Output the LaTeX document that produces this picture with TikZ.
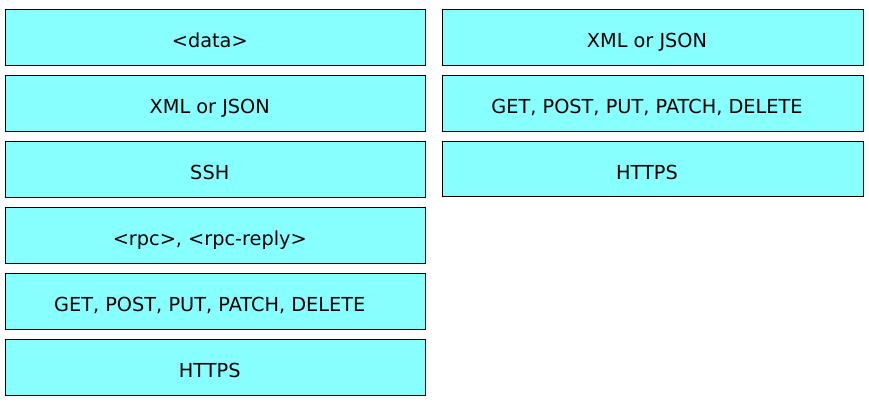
\documentclass[tikz,border=0pt]{standalone}
\usepackage{fontspec}
\setmainfont{DejaVu Sans}
\definecolor{boxcyan}{RGB}{136,255,255}
\tikzset{
    itembox/.style={draw=black, fill=boxcyan, line width=1pt, inner sep=0pt,
        minimum height=55.5pt, text height=20pt, text depth=0pt,
        font=\fontsize{19.3}{22}\selectfont,
        execute at end node=\hspace*{11pt}},
    leftbox/.style={itembox, minimum width=420.5pt},
    rightbox/.style={itembox, minimum width=421pt}
}
\begin{document}
\begin{tikzpicture}[x=1pt, y=-1pt]
                \useasboundingbox (0,0) rectangle (869,403);
                % left column
                \node[leftbox] (ldata)  at (215.25,37.5)  {<data>};
                \node[leftbox] (lxml)   at (215.25,103.3) {XML or JSON};
                \node[leftbox] (lssh)   at (215.25,169.4) {SSH};
                \node[leftbox] (lrpc)   at (215.25,235.4) {<rpc>, <rpc-reply>};
                \node[leftbox] (lverbs) at (215.25,301.4) {GET, POST, PUT, PATCH, DELETE};
                \node[leftbox] (lhttps) at (215.25,367.3) {HTTPS};
                % right column
                \node[rightbox] (rxml)   at (652.5,37.5)  {XML or JSON};
                \node[rightbox] (rverbs) at (652.5,103.6) {GET, POST, PUT, PATCH, DELETE};
                \node[rightbox] (rhttps) at (652.5,169.2) {HTTPS};
            \end{tikzpicture}
\end{document}
